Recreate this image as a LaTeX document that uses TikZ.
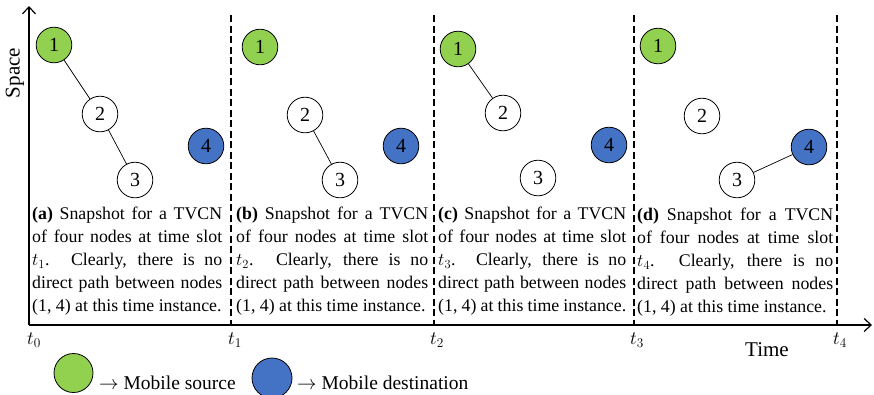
\RequirePackage{fix-cm}
\documentclass[tikz,border=0pt]{standalone}
\usepackage{fontspec}
\setmainfont{Liberation Serif}
\usetikzlibrary{arrows.meta}

\definecolor{srcgreen}{HTML}{92D050}
\definecolor{dstblue}{HTML}{4472C4}

\tikzset{
  vtx/.style={circle, draw=black, line width=0.8pt, minimum size=35.6pt,
    inner sep=0pt, font=\fontsize{20}{20}\selectfont},
  src/.style={vtx, fill=srcgreen},
  dst/.style={vtx, fill=dstblue},
  relay/.style={vtx, fill=white},
  link/.style={line width=0.7pt},
  slotline/.style={line width=1.8pt, dash pattern=on 7pt off 3.5pt},
  axisline/.style={line width=1.2pt,
    -{Straight Barb[length=7pt,width=13pt,line width=1.2pt]}},
  caption/.style={anchor=base west, inner sep=0pt},
  ticklabel/.style={font=\fontsize{19}{19}\selectfont, inner sep=0pt},
  axislabel/.style={font=\fontsize{21}{21}\selectfont, inner sep=0pt},
  legendtext/.style={anchor=base west, inner sep=0pt, font=\fontsize{19.5}{19.5}\selectfont},
}

% one justified line of a caption
\newcommand\capline[1]{\makebox[\linewidth][s]{#1}}
% caption of one snapshot: width, panel letter, slot index
\newcommand\snaptext[3]{\parbox[t]{#1}{\fontsize{17.8}{23.2}\selectfont\parindent=0pt
  \capline{\textbf{(#2)} Snapshot for a TVCN}\par
  \capline{of four nodes at time slot}\par
  \capline{$t_{#3}$. Clearly, there is no}\par
  \capline{direct path between nodes}\par
  (1, 4) at this time instance.}}

\begin{document}
\begin{tikzpicture}[x=1pt, y=-1pt]
\useasboundingbox (0,0) rectangle (874,394);

% axes
\coordinate (O) at (29,325);
\coordinate (ytip) at (29,6);
\coordinate (xtip) at (872,325);
\draw[axisline] (O) -- (ytip);
\draw[axisline] (O) -- (xtip);
\node[axislabel, rotate=90] (space) at (15,73) {Space};
\node[axislabel] (time) at (767,350) {Time};

% slot boundaries
\foreach \x/\n in {231/1, 434/2, 634/3, 837/4} {
  \coordinate (top\n) at (\x,15);
  \coordinate (bot\n) at (\x,325);
  \draw[slotline] (top\n) -- (bot\n);
}

% time slot labels
\node[ticklabel] (t0) at (34,340) {$t_0$};
\node[ticklabel] (t1) at (235,340) {$t_1$};
\node[ticklabel] (t2) at (437,340) {$t_2$};
\node[ticklabel] (t3) at (637,340) {$t_3$};
\node[ticklabel] (t4) at (840,340) {$t_4$};

% snapshot (a)
\node[src]   (a1) at (54,45)   {1};
\node[relay] (a2) at (100,114) {2};
\node[relay] (a3) at (135,180) {3};
\node[dst]   (a4) at (206,146) {4};
\draw[link] (a1) -- (a2);
\draw[link] (a2) -- (a3);
\node[caption] (capa) at (32,219) {\snaptext{190pt}{a}{1}};

% snapshot (b)
\node[src]   (b1) at (260,47)  {1};
\node[relay] (b2) at (305,115) {2};
\node[relay] (b3) at (340,180) {3};
\node[dst]   (b4) at (401,146) {4};
\draw[link] (b2) -- (b3);
\node[caption] (capb) at (236,219) {\snaptext{192pt}{b}{2}};

% snapshot (c)
\node[src]   (c1) at (458,49)  {1};
\node[relay] (c2) at (503,113) {2};
\node[relay] (c3) at (538,178) {3};
\node[dst]   (c4) at (609,145) {4};
\draw[link] (c1) -- (c2);
\node[caption] (capc) at (438,219) {\snaptext{188pt}{c}{3}};

% snapshot (d)
\node[src]   (d1) at (658,46)  {1};
\node[relay] (d2) at (702,116) {2};
\node[relay] (d3) at (737,180) {3};
\node[dst]   (d4) at (809,147) {4};
\draw[link] (d3) -- (d4);
\node[caption] (capd) at (637,220) {\snaptext{196pt}{d}{4}};

% legend
\node[src, minimum size=39pt] (legsrc) at (73.5,373) {};
\node[legendtext] (legsrctxt) at (99,389) {$\rightarrow$ Mobile source};
\node[dst, minimum size=40pt] (legdst) at (272,378) {};
\node[legendtext] (legdsttxt) at (297,389) {$\rightarrow$ Mobile destination};
\end{tikzpicture}
\end{document}
